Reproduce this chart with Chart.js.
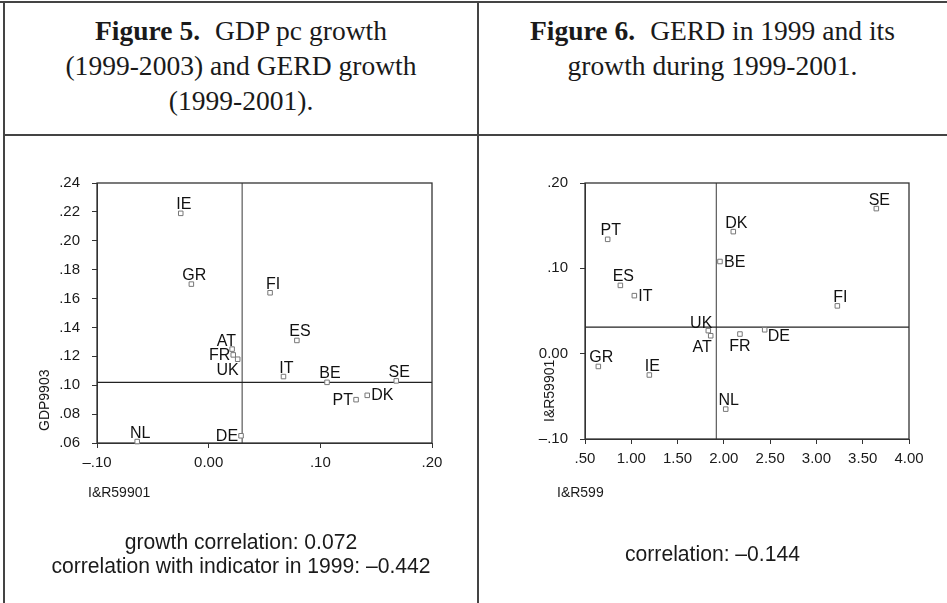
<!DOCTYPE html>
<html lang="en">
<head>
<meta charset="UTF-8">
<title>Figure 5 and Figure 6</title>
<script src="https://cdn.jsdelivr.net/npm/chart.js"></script>
<style>
  body { margin: 0; width: 947px; height: 603px; background: #fff; position: relative; overflow: hidden;
         font-family: "Liberation Sans", Arial, sans-serif; color: #111; }
  .line { position: absolute; background: #444; }
  .head { position: absolute; top: 14px; font-family: "Liberation Serif", "Times New Roman", serif;
          font-size: 27px; line-height: 35px; text-align: center; color: #1a1a1a;
          transform: scaleX(1.02); transform-origin: 50% 0; }
  .head b { margin-right: 8px; }
  .cap { position: absolute; font-size: 22px; line-height: 24px; text-align: center; color: #1a1a1a;
         transform: scaleX(0.96); transform-origin: 50% 0; }
  .axt { position: absolute; font-size: 14px; color: #1a1a1a; white-space: nowrap; }
  .box { position: absolute; top: 140px; height: 463px; }
</style>
</head>
<body>
  <div class="line" style="left:0;top:1px;width:947px;height:2px"></div>
  <div class="line" style="left:3px;top:1px;width:2px;height:602px"></div>
  <div class="line" style="left:477px;top:1px;width:1.5px;height:602px"></div>
  <div class="line" style="left:3px;top:134px;width:944px;height:1.5px"></div>

  <div class="head" style="left:5px;width:472px"><b>Figure 5.</b> GDP pc growth<br>(1999-2003) and GERD growth<br>(1999-2001).</div>
  <div class="head" style="left:478px;width:469px"><b>Figure 6.</b> GERD in 1999 and its<br>growth during 1999-2001.</div>

  <div class="box" style="left:0;width:477px"><canvas id="fig5"></canvas></div>
  <div class="box" style="left:477px;width:470px"><canvas id="fig6"></canvas></div>

  <div class="axt" style="left:88px;top:484px">I&amp;R59901</div>
  <div class="axt" style="left:36px;top:431px;transform:rotate(-90deg);transform-origin:0 0">GDP9903</div>
  <div class="axt" style="left:557px;top:484px">I&amp;R599</div>
  <div class="axt" style="left:541px;top:422px;transform:rotate(-90deg);transform-origin:0 0">I&amp;R59901</div>

  <div class="cap" style="left:5px;width:472px;top:530px">growth correlation: 0.072<br>correlation with indicator in 1999: &ndash;0.442</div>
  <div class="cap" style="left:478px;width:469px;top:542px">correlation: &ndash;0.144</div>

<script>
// Figure 5: GERD growth 1999-2001 (x) vs GDP pc growth 1999-2003 (y)
var fig5Countries = ['IE', 'GR', 'FI', 'ES', 'AT', 'FR', 'UK', 'IT', 'BE', 'SE', 'PT', 'DK', 'DE', 'NL'];
var fig5Gerd = [-0.025, -0.0155, 0.055, 0.079, 0.021, 0.022, 0.026, 0.067, 0.106, 0.168, 0.132, 0.142, 0.029, -0.064];
var fig5Gdp = [0.219, 0.170, 0.164, 0.131, 0.125, 0.121, 0.118, 0.106, 0.102, 0.103, 0.090, 0.093, 0.065, 0.061];
var fig5Place = ['n', 'n', 'n', 'n', 'nw', 'w', 'sw', 'n', 'n', 'n', 'w', 'e', 'w', 'n'];
var fig5MeanX = 0.030;
var fig5MeanY = 0.102;
var fig5XVals = [-0.1, 0, 0.1, 0.2];
var fig5XTicks = ['\u2013.10', '0.00', '.10', '.20'];
var fig5YVals = [0.06, 0.08, 0.10, 0.12, 0.14, 0.16, 0.18, 0.20, 0.22, 0.24];
var fig5YTicks = ['.06', '.08', '.10', '.12', '.14', '.16', '.18', '.20', '.22', '.24'];

// Figure 6: GERD level in 1999 (x) vs GERD growth 1999-2001 (y)
var fig6Countries = ['SE', 'DK', 'PT', 'BE', 'ES', 'IT', 'FI', 'UK', 'AT', 'FR', 'DE', 'GR', 'IE', 'NL'];
var fig6Level = [3.647, 2.102, 0.745, 1.958, 0.882, 1.033, 3.226, 1.832, 1.858, 2.174, 2.441, 0.644, 1.195, 2.02];
var fig6Growth = [0.170, 0.143, 0.134, 0.108, 0.080, 0.068, 0.056, 0.027, 0.021, 0.023, 0.028, -0.015, -0.025, -0.065];
var fig6Place = ['n', 'n', 'n', 'e', 'n', 'e', 'n', 'nw', 'sw', 's', 'se', 'n', 'n', 'n'];
var fig6MeanX = 1.919;
var fig6MeanY = 0.031;
var fig6XVals = [0.5, 1, 1.5, 2, 2.5, 3, 3.5, 4];
var fig6XTicks = ['.50', '1.00', '1.50', '2.00', '2.50', '3.00', '3.50', '4.00'];
var fig6YVals = [-0.1, 0, 0.1, 0.2];
var fig6YTicks = ['\u2013.10', '0.00', '.10', '.20'];

// where a country label sits relative to its marker
var labelOffsets = {
  n:  { align: 'center', dx: 3,  dy: -4 },
  s:  { align: 'center', dx: 0,  dy: 17 },
  e:  { align: 'left',   dx: 4,  dy: 5 },
  se: { align: 'left',   dx: 3,  dy: 11 },
  w:  { align: 'right',  dx: -3, dy: 5 },
  nw: { align: 'right',  dx: 4,  dy: -3 },
  sw: { align: 'right',  dx: 1,  dy: 16 }
};

var countryLabels = {
  id: 'countryLabels',
  afterDatasetsDraw: function (chart, args, opts) {
    var ctx = chart.ctx;
    ctx.save();
    ctx.font = '16px "Liberation Sans", Arial, sans-serif';
    ctx.fillStyle = '#111';
    ctx.textBaseline = 'alphabetic';
    chart.getDatasetMeta(0).data.forEach(function (pt, i) {
      var o = labelOffsets[opts.places[i]];
      ctx.textAlign = o.align;
      ctx.fillText(opts.names[i], pt.x + o.dx, pt.y + o.dy);
    });
    ctx.restore();
  }
};

// frame round the plot and the two mean lines
var meanLines = {
  id: 'meanLines',
  beforeDatasetsDraw: function (chart, args, opts) {
    var a = chart.chartArea, ctx = chart.ctx;
    var x = chart.scales.x.getPixelForValue(opts.x);
    var y = chart.scales.y.getPixelForValue(opts.y);
    ctx.save();
    ctx.lineWidth = 1.3;
    ctx.strokeStyle = '#666';
    ctx.beginPath(); ctx.moveTo(x, a.top); ctx.lineTo(x, a.bottom); ctx.stroke();
    ctx.strokeStyle = '#222';
    ctx.beginPath(); ctx.moveTo(a.left, y); ctx.lineTo(a.right, y); ctx.stroke();
    ctx.strokeStyle = '#333';
    ctx.strokeRect(a.left, a.top, a.right - a.left, a.bottom - a.top);
    ctx.restore();
  }
};

function makeScatter(id, xs, ys, names, places, meanX, meanY, xVals, xTicks, yVals, yTicks, yWidth, pad) {
  var pts = xs.map(function (v, i) { return { x: v, y: ys[i] }; });
  var tickFont = { family: '"Liberation Sans", Arial, sans-serif', size: 15 };
  return new Chart(document.getElementById(id), {
    type: 'scatter',
    data: {
      datasets: [{
        data: pts,
        pointStyle: 'rect',
        pointRadius: 3.2,
        pointHoverRadius: 3.2,
        borderColor: '#777',
        backgroundColor: '#fff',
        borderWidth: 1,
        clip: false
      }]
    },
    plugins: [countryLabels, meanLines],
    options: {
      responsive: true,
      maintainAspectRatio: false,
      animation: false,
      layout: { padding: pad },
      plugins: {
        legend: { display: false },
        tooltip: { enabled: false },
        countryLabels: { names: names, places: places },
        meanLines: { x: meanX, y: meanY }
      },
      scales: {
        x: {
          type: 'linear',
          min: xVals[0],
          max: xVals[xVals.length - 1],
          afterBuildTicks: function (s) { s.ticks = xVals.map(function (v) { return { value: v }; }); },
          afterFit: function (s) { s.height = 30; },
          grid: { drawOnChartArea: false, tickLength: 5, color: '#333' },
          border: { color: '#333' },
          ticks: { font: tickFont, color: '#1a1a1a', padding: 6, maxRotation: 0,
                   callback: function (v, i) { return xTicks[i]; } }
        },
        y: {
          type: 'linear',
          min: yVals[0],
          max: yVals[yVals.length - 1],
          afterBuildTicks: function (s) { s.ticks = yVals.map(function (v) { return { value: v }; }); },
          afterFit: function (s) { s.width = yWidth; },
          grid: { drawOnChartArea: false, tickLength: 5, color: '#333' },
          border: { color: '#333' },
          ticks: { font: tickFont, color: '#1a1a1a', padding: 12,
                   callback: function (v, i) { return yTicks[i]; } }
        }
      }
    }
  });
}

makeScatter('fig5', fig5Gerd, fig5Gdp, fig5Countries, fig5Place, fig5MeanX, fig5MeanY,
  fig5XVals, fig5XTicks, fig5YVals, fig5YTicks, 97, { left: 0, top: 43, right: 45, bottom: 130 });
makeScatter('fig6', fig6Level, fig6Growth, fig6Countries, fig6Place, fig6MeanX, fig6MeanY,
  fig6XVals, fig6XTicks, fig6YVals, fig6YTicks, 108, { left: 0, top: 43, right: 38, bottom: 134 });
</script>
</body>
</html>
